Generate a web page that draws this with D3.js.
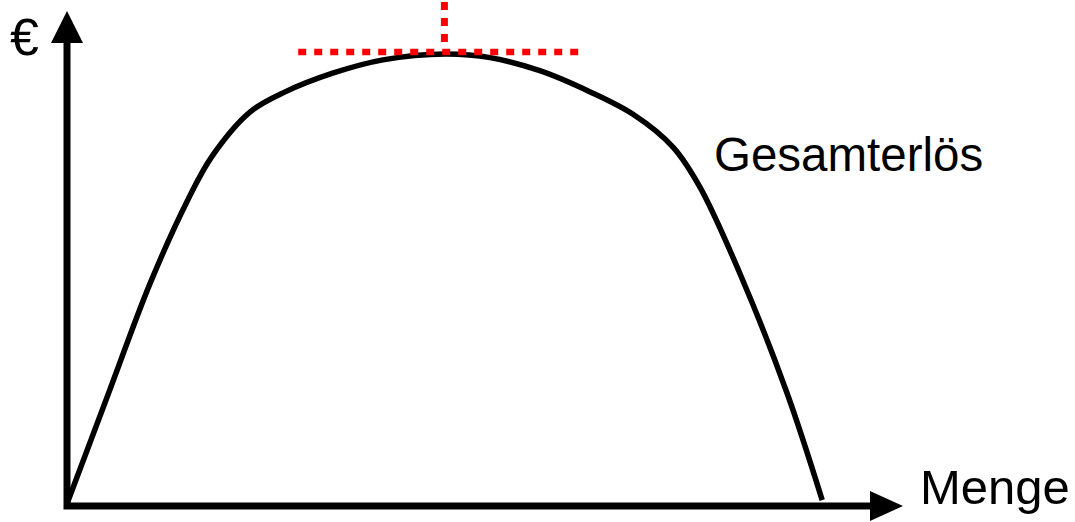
<!DOCTYPE html>
<html>
<head>
<meta charset="utf-8">
<script src="https://cdn.jsdelivr.net/npm/d3@7"></script>
<style>
  body { margin: 0; background: #fff; }
  svg text { font-family: Arial, "Liberation Sans", sans-serif; fill: #000; }
</style>
</head>
<body>
<svg id="viz"></svg>
<script>
// Menge (x) and Gesamterlös (y), arbitrary units
const menge = [0, 5.1, 10.4, 15.1, 18.1, 22.9, 27.0, 33.3, 39.5, 47.3,
  52.9, 59.1, 65.4, 70.8, 75.75, 79.1, 84.1, 90.0, 94.4];
const erloes = [0.5, 24.5, 49.3, 67.7, 77.3, 87.2, 91.4, 95.8, 98.7, 100,
  99.2, 96.3, 91.6, 86.6, 79.4, 70.6, 51.5, 25.0, 1.3];
const tangentRange = [28.9, 64.0];
const labels = { x: "Menge", y: "€", curve: "Gesamterlös" };

const width = 1075;
const height = 522;

const sx = d3.scaleLinear().domain([0, 100]).range([67, 867]);
const sy = d3.scaleLinear().domain([0, 100]).range([506, 54]);

const svg = d3.select("#viz").attr("width", width).attr("height", height);

// axes
svg.append("path")
  .attr("d", `M${sx(0)},43 L${sx(0)},${sy(0)} L870,${sy(0)}`)
  .attr("fill", "none")
  .attr("stroke", "#000")
  .attr("stroke-width", 7)
  .attr("stroke-linecap", "square")
  .attr("stroke-linejoin", "miter");

svg.append("path")
  .attr("d", `M${sx(0)},11 L${sx(0) - 16},43 L${sx(0) + 16},43 Z`)
  .attr("fill", "#000");

svg.append("path")
  .attr("d", `M903,${sy(0)} L870,${sy(0) - 15} L870,${sy(0) + 15} Z`)
  .attr("fill", "#000");

// revenue curve
const pts = menge.map((m, i) => [m, erloes[i]]);
const line = d3.line()
  .x(d => sx(d[0]))
  .y(d => sy(d[1]))
  .curve(d3.curveCatmullRom.alpha(0.5));

svg.append("path")
  .datum(pts)
  .attr("d", line)
  .attr("fill", "none")
  .attr("stroke", "#000")
  .attr("stroke-width", 5.5);

// maximum marker
const iMax = d3.maxIndex(erloes);
const yTop = sy(erloes[iMax]) - 2;

svg.append("line")
  .attr("x1", sx(tangentRange[0]))
  .attr("x2", sx(tangentRange[1]))
  .attr("y1", yTop)
  .attr("y2", yTop)
  .attr("stroke", "#ff0000")
  .attr("stroke-width", 6.5)
  .attr("stroke-dasharray", "8,8");

svg.append("line")
  .attr("x1", sx(menge[iMax]) - 1)
  .attr("x2", sx(menge[iMax]) - 1)
  .attr("y1", 2)
  .attr("y2", yTop - 3)
  .attr("stroke", "#ff0000")
  .attr("stroke-width", 7)
  .attr("stroke-dasharray", "8,8");

// labels
svg.append("text").attr("x", 10).attr("y", 55).attr("font-size", 52).text(labels.y);
svg.append("text").attr("x", 920).attr("y", 504).attr("font-size", 49).text(labels.x);
svg.append("text").attr("x", 714).attr("y", 171).attr("font-size", 47.5).text(labels.curve);
</script>
</body>
</html>
